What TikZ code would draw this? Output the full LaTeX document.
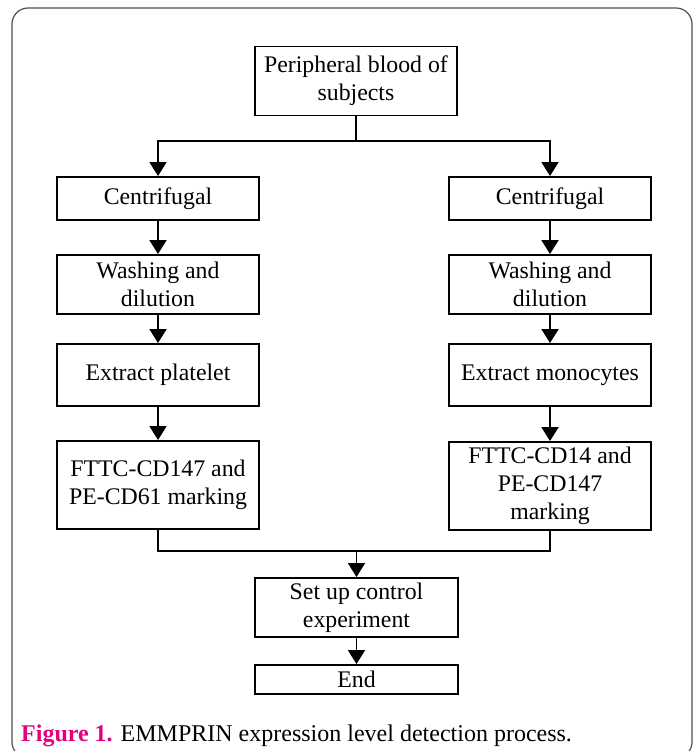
\documentclass[tikz,border=0pt]{standalone}
\usepackage{fontspec}
\setmainfont{Liberation Serif}
\usetikzlibrary{arrows.meta}
\definecolor{capmag}{HTML}{E5007D}
\definecolor{framegray}{HTML}{505050}
\begin{document}
\begin{tikzpicture}[x=1pt,y=-1pt,
  box/.style={draw=black,line width=1.9pt,rectangle,minimum width=202pt,align=center,inner sep=2pt,
    font=\fontsize{23.8}{28}\selectfont},
  link/.style={draw=black,line width=1.9pt},
  arr/.style={link,-{Triangle[length=14pt,width=17pt]}}]
\useasboundingbox (0,0) rectangle (697,751);
\begin{scope}
\clip (0,0) rectangle (697,751);
\draw[framegray,line width=1.2pt,rounded corners=16pt] (12,8) rectangle (692,758);
\end{scope}
% nodes
\node[box,minimum height=69pt] (top) at (356,81) {Peripheral blood of\\subjects};
\node[box,minimum height=43pt] (c1) at (158,198.5) {Centrifugal};
\node[box,minimum height=59pt] (w1) at (158,284.5) {Washing and\\dilution};
\node[box,minimum height=62pt] (e1) at (158,375) {Extract platelet};
\node[box,minimum height=88pt] (f1) at (158,485) {FTTC-CD147 and\\PE-CD61 marking};
\node[box,minimum height=43pt] (c2) at (550,198.5) {Centrifugal};
\node[box,minimum height=59pt] (w2) at (550,284.5) {Washing and\\dilution};
\node[box,minimum height=62pt] (e2) at (550,375) {Extract monocytes};
\node[box,minimum height=88pt] (f2) at (550,486) {FTTC-CD14 and\\PE-CD147\\marking};
\node[box,minimum width=203pt,minimum height=59pt] (s) at (356.5,607.5) {Set up control\\experiment};
\node[box,minimum width=203pt,minimum height=29pt] (end) at (356.5,679.5) {End};
% connectors
\coordinate (split) at (356,141);
\coordinate (merge) at (356.5,551);
\draw[link] (top.south) -- (split);
\draw[arr] (split) -| (c1.north);
\draw[arr] (split) -| (c2.north);
\draw[arr] (c1) -- (w1);
\draw[arr] (w1) -- (e1);
\draw[arr] (e1) -- (f1);
\draw[arr] (c2) -- (w2);
\draw[arr] (w2) -- (e2);
\draw[arr] (e2) -- (f2);
\draw[link] (f1.south) |- (merge);
\draw[link] (f2.south) |- (merge);
\draw[arr] (merge) -- (s.north);
\draw[arr] (s) -- (end);
% caption
\node[anchor=base west,inner sep=0pt,font=\fontsize{24}{28}\selectfont] (cap) at (21,741)
  {\textcolor{capmag}{\textbf{Figure 1.}} EMMPRIN expression level detection process.};
\end{tikzpicture}
\end{document}
